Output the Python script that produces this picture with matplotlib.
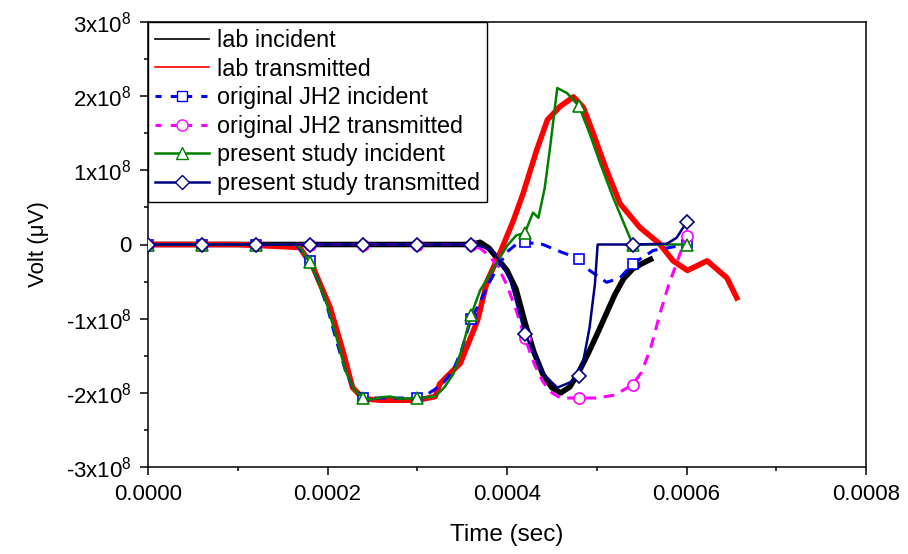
import numpy as np
import matplotlib
matplotlib.use("Agg")
import matplotlib.pyplot as plt
from matplotlib.lines import Line2D
from matplotlib.ticker import MultipleLocator, FuncFormatter

plt.rcParams['font.family'] = ['Liberation Sans', 'DejaVu Sans']
plt.rcParams['mathtext.fontset'] = 'custom'
plt.rcParams['mathtext.rm'] = 'Liberation Sans'
plt.rcParams['mathtext.default'] = 'regular'

# time in units of 1e-4 sec, voltage in units of 1e8 uV
lab_inc_t = [0.0, 1.0, 2.0, 3.0, 3.6, 3.7, 3.8, 3.9, 4.0, 4.1, 4.2, 4.3, 4.4, 4.5, 4.6,
             4.7, 4.8, 4.9, 5.0, 5.1, 5.2, 5.3, 5.4, 5.5, 5.6]
lab_inc_v = [0.0, 0.0, 0.0, 0.0, 0.0, 0.03, -0.05, -0.2, -0.35, -0.6, -1.05, -1.45, -1.75,
             -1.93, -2.0, -1.92, -1.72, -1.48, -1.22, -0.95, -0.68, -0.46, -0.33, -0.26, -0.2]

lab_tr_t = [0.0, 1.0, 1.69, 1.84, 2.03, 2.17, 2.28, 2.40, 2.6, 2.8, 3.0, 3.2, 3.25, 3.48,
            3.67, 3.78, 3.92, 4.07, 4.18, 4.33, 4.45, 4.59, 4.74, 4.85, 4.96, 5.11, 5.26,
            5.48, 5.70, 5.85, 6.01, 6.23, 6.45, 6.56]
lab_tr_v = [0.0, 0.0, -0.04, -0.31, -0.85, -1.43, -1.93, -2.08, -2.1, -2.1, -2.1, -2.05,
            -1.88, -1.6, -1.03, -0.49, -0.12, 0.32, 0.69, 1.27, 1.68, 1.86, 1.99, 1.85, 1.5,
            1.0, 0.55, 0.23, 0.01, -0.22, -0.35, -0.22, -0.45, -0.72]

jh2_inc_t = [0.0, 0.6, 1.2, 1.65, 1.8, 1.9, 2.0, 2.1, 2.2, 2.3, 2.4, 2.7, 3.0, 3.1, 3.2,
             3.3, 3.4, 3.5, 3.6, 3.7, 3.8, 3.9, 4.0, 4.1, 4.2, 4.4, 4.6, 4.8, 4.92, 5.11,
             5.26, 5.4, 5.63, 6.0]
jh2_inc_v = [0.0, 0.0, 0.0, 0.0, -0.22, -0.5, -0.85, -1.3, -1.7, -1.98, -2.07, -2.07,
             -2.07, -2.03, -1.95, -1.85, -1.7, -1.4, -1.0, -0.78, -0.52, -0.3, -0.1, 0.0,
             0.03, 0.0, -0.1, -0.19, -0.35, -0.51, -0.45, -0.26, -0.08, 0.0]

jh2_tr_t = [0.0, 0.6, 1.2, 1.8, 2.4, 3.0, 3.6, 3.7, 3.8, 3.9, 4.0, 4.1, 4.2, 4.3, 4.4,
            4.5, 4.6, 4.8, 5.0, 5.2, 5.4, 5.5, 5.6, 5.7, 5.8, 5.9, 6.0]
jh2_tr_v = [0.0, 0.0, 0.0, 0.0, 0.0, 0.0, 0.0, -0.05, -0.15, -0.3, -0.55, -0.88, -1.26,
            -1.6, -1.85, -2.0, -2.07, -2.07, -2.07, -2.03, -1.89, -1.72, -1.4, -0.95,
            -0.55, -0.22, 0.12]

ps_inc_t = [0.0, 0.6, 1.2, 1.65, 1.7, 1.8, 1.9, 2.0, 2.1, 2.2, 2.3, 2.4, 2.5, 2.6, 2.7,
            2.8, 3.0, 3.2, 3.3, 3.4, 3.5, 3.6, 3.7, 3.8, 3.9, 4.0, 4.1, 4.2, 4.29, 4.35,
            4.39, 4.42, 4.48, 4.56, 4.67, 4.8, 4.92, 5.04, 5.18, 5.37, 5.4, 6.0]
ps_inc_v = [0.0, 0.0, 0.0, 0.0, -0.05, -0.24, -0.5, -0.83, -1.25, -1.7, -1.97, -2.07,
            -2.09, -2.06, -2.05, -2.08, -2.07, -2.05, -1.93, -1.75, -1.4, -0.95, -0.62,
            -0.42, -0.22, -0.02, 0.12, 0.16, 0.43, 0.36, 0.59, 0.76, 1.31, 2.11, 2.04,
            1.87, 1.5, 1.09, 0.64, 0.09, 0.0, 0.0]

ps_tr_t = [0.0, 0.6, 1.2, 1.8, 2.4, 3.0, 3.6, 3.7, 3.84, 4.03, 4.2, 4.4, 4.56, 4.7, 4.8,
           4.85, 4.92, 4.98, 5.01, 5.4, 5.78, 5.89, 6.0]
ps_tr_v = [0.0, 0.0, 0.0, 0.0, 0.0, 0.0, 0.0, -0.02, -0.08, -0.45, -1.2, -1.74, -1.93,
           -1.86, -1.77, -1.57, -1.12, -0.53, 0.0, 0.0, 0.01, 0.09, 0.3]


def marks(t):
    # marker every 0.6e-4 sec
    return [i for i, x in enumerate(t) if abs(x / 0.6 - round(x / 0.6)) < 1e-6]


def sc(t, v):
    return np.array(t) * 1e-4, np.array(v) * 1e8


fig = plt.figure(figsize=(9.08, 5.54), dpi=100)
ax = fig.add_axes([148 / 908, 1 - 467 / 554, 718 / 908, 445 / 554])

ax.plot(*sc(lab_inc_t, lab_inc_v), color='black', lw=4, zorder=2)
ax.plot(*sc(lab_tr_t, lab_tr_v), color='red', lw=4, zorder=3)
ax.plot(*sc(jh2_inc_t, jh2_inc_v), color='#0000ff', lw=2.2, dashes=(3.5, 2.5),
        marker='s', ms=7, mfc='white', mec='#0000ff', mew=1.2,
        markevery=marks(jh2_inc_t), zorder=4)
ax.plot(*sc(jh2_tr_t, jh2_tr_v), color='#ff00ff', lw=2.2, dashes=(3.5, 2.5),
        marker='o', ms=8, mfc='white', mec='#ff00ff', mew=1.2,
        markevery=marks(jh2_tr_t), zorder=5)
ax.plot(*sc(ps_inc_t, ps_inc_v), color='#008000', lw=1.8,
        marker='^', ms=9, mfc='white', mec='#008000', mew=1.2,
        markevery=marks(ps_inc_t), zorder=6)
ax.plot(*sc(ps_tr_t, ps_tr_v), color='#000080', lw=1.8,
        marker='D', ms=7, mfc='white', mec='#000080', mew=1.2,
        markevery=marks(ps_tr_t), zorder=7)

ax.set_xlim(0, 0.0008)
ax.set_ylim(-3e8, 3e8)
ax.xaxis.set_major_locator(MultipleLocator(0.0002))
ax.xaxis.set_minor_locator(MultipleLocator(0.0001))
ax.yaxis.set_major_locator(MultipleLocator(1e8))
ax.yaxis.set_minor_locator(MultipleLocator(0.5e8))
ax.xaxis.set_major_formatter(FuncFormatter(lambda x, p: '%.4f' % x))


def yfmt(y, p):
    k = int(round(y / 1e8))
    if k == 0:
        return '0'
    return '%dx10$^{8}$' % k


ax.yaxis.set_major_formatter(FuncFormatter(yfmt))
ax.tick_params(which='both', direction='out', top=False, right=False, width=1.1,
               labelsize=16)
ax.tick_params(which='major', length=6, pad=6)
ax.tick_params(which='minor', length=3)
for s in ax.spines.values():
    s.set_linewidth(1.1)

ax.set_xlabel('Time (sec)', fontsize=17.5, labelpad=14)
ax.set_ylabel('Volt (\u03bcV)', fontsize=16, labelpad=12)

handles = [
    Line2D([], [], color='black', lw=1.2),
    Line2D([], [], color='red', lw=1.2),
    Line2D([], [], color='#0000ff', lw=2.2, dashes=(2, 3), marker='s', ms=7,
           mfc='white', mec='#0000ff'),
    Line2D([], [], color='#ff00ff', lw=2.2, dashes=(2, 3), marker='o', ms=8,
           mfc='white', mec='#ff00ff'),
    Line2D([], [], color='#008000', lw=1.8, marker='^', ms=9, mfc='white', mec='#008000'),
    Line2D([], [], color='#000080', lw=1.8, marker='D', ms=7, mfc='white', mec='#000080'),
]
labels = ['lab incident', 'lab transmitted', 'original JH2 incident',
          'original JH2 transmitted', 'present study incident',
          'present study transmitted']
leg = ax.legend(handles, labels, loc='upper left', bbox_to_anchor=(0, 1),
                borderaxespad=0, fontsize=16.8, numpoints=1, handlelength=2.3,
                handletextpad=0.35, labelspacing=0.24, borderpad=0.3,
                fancybox=False, framealpha=1, edgecolor='black')
leg.get_frame().set_linewidth(1.0)
leg.set_zorder(10)

fig.savefig('out.png', dpi=100)
